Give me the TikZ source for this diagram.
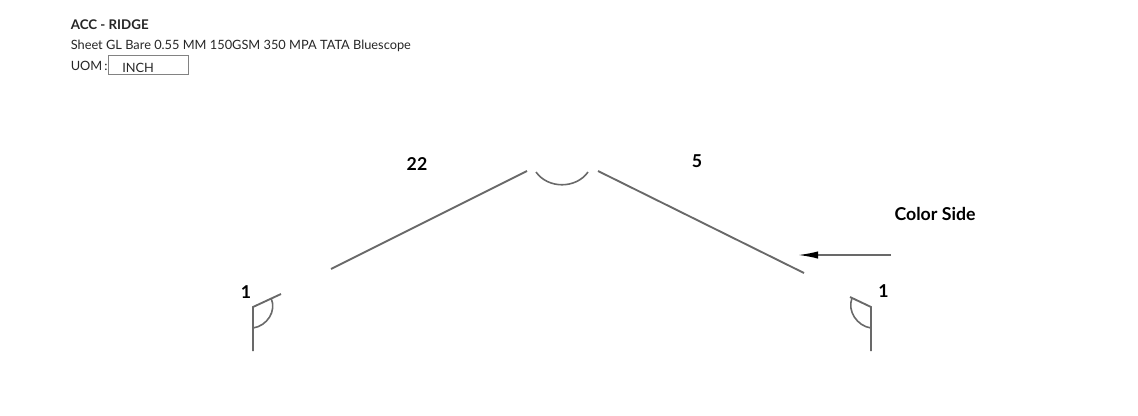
\documentclass[tikz,border=0pt]{standalone}
\usepackage{fontspec}
\setmainfont{Lato}
\usetikzlibrary{arrows.meta}
\definecolor{sheetgray}{RGB}{105,105,105}
\definecolor{boxgray}{RGB}{130,130,130}
\begin{document}
\begin{tikzpicture}[x=0.75pt,y=-0.75pt,
  sheet/.style={draw=sheetgray,line width=1.4pt},
  anglemark/.style={draw=sheetgray,line width=1.2pt},
  dimlabel/.style={font=\fontsize{13.3}{15}\selectfont\bfseries,inner sep=0pt},
  info/.style={font=\fontsize{9.6}{11}\selectfont,anchor=west,inner sep=0pt,text=black!85},
  arrow/.style={-{Latex[length=15pt,width=5.5pt,color=black]},draw=sheetgray,line width=1.2pt}
]
\useasboundingbox (0,0) rectangle (1138,415);
% heading
\node[info,font=\fontsize{10}{11}\selectfont\bfseries] (title) at (70.5,25) {ACC - RIDGE};
\node[info] (material) at (70.5,46) {Sheet GL Bare 0.55 MM 150GSM 350 MPA TATA Bluescope};
\node[info] (uom) at (70.5,66) {UOM\kern1.5pt:};
\node[draw=boxgray,line width=0.6pt,minimum width=60pt,minimum height=14.25pt,inner sep=0pt] (uombox) at (148,64.5) {};
\node[info] (inch) at (122,67.5) {INCH};
% sheet
\coordinate (leftlow) at (331,269);
\coordinate (lefttop) at (527,171);
\coordinate (righttop) at (598,171);
\coordinate (rightlow) at (804,273);
\coordinate (lefthem) at (281,294);
\coordinate (leftknee) at (253,307);
\coordinate (leftend) at (253,351);
\coordinate (righthem) at (850,297);
\coordinate (rightknee) at (871,307);
\coordinate (rightend) at (871,351);
\draw[sheet] (leftlow)--(lefttop);
\draw[sheet] (righttop)--(rightlow);
\draw[sheet] (lefthem)--(leftknee)--(leftend);
\draw[sheet] (righthem)--(rightknee)--(rightend);
% angle marks
\coordinate (ridgea) at (536,172);
\coordinate (ridgeb) at (588,172);
\coordinate (lefta) at (271,298);
\coordinate (leftb) at (253,328);
\coordinate (righta) at (852,298);
\coordinate (rightb) at (871,328);
\draw[anglemark] (ridgea) .. controls (548,189) and (576,189) .. (ridgeb);
\draw[anglemark] (lefta) .. controls (277,311) and (267,326) .. (leftb);
\draw[anglemark] (righta) .. controls (847,311) and (857,326) .. (rightb);
% labels
\node[dimlabel] (len22) at (417,164) {22};
\node[dimlabel] (len5) at (697,161.5) {5};
\node[dimlabel] (hemleft) at (246,292) {1};
\node[dimlabel] (hemright) at (883.5,291) {1};
\node[dimlabel] (colorside) at (935,214) {Color Side};
\coordinate (arrowstart) at (891,255);
\coordinate (arrowend) at (798,255);
\draw[arrow] (arrowstart)--(arrowend);
\end{tikzpicture}
\end{document}
